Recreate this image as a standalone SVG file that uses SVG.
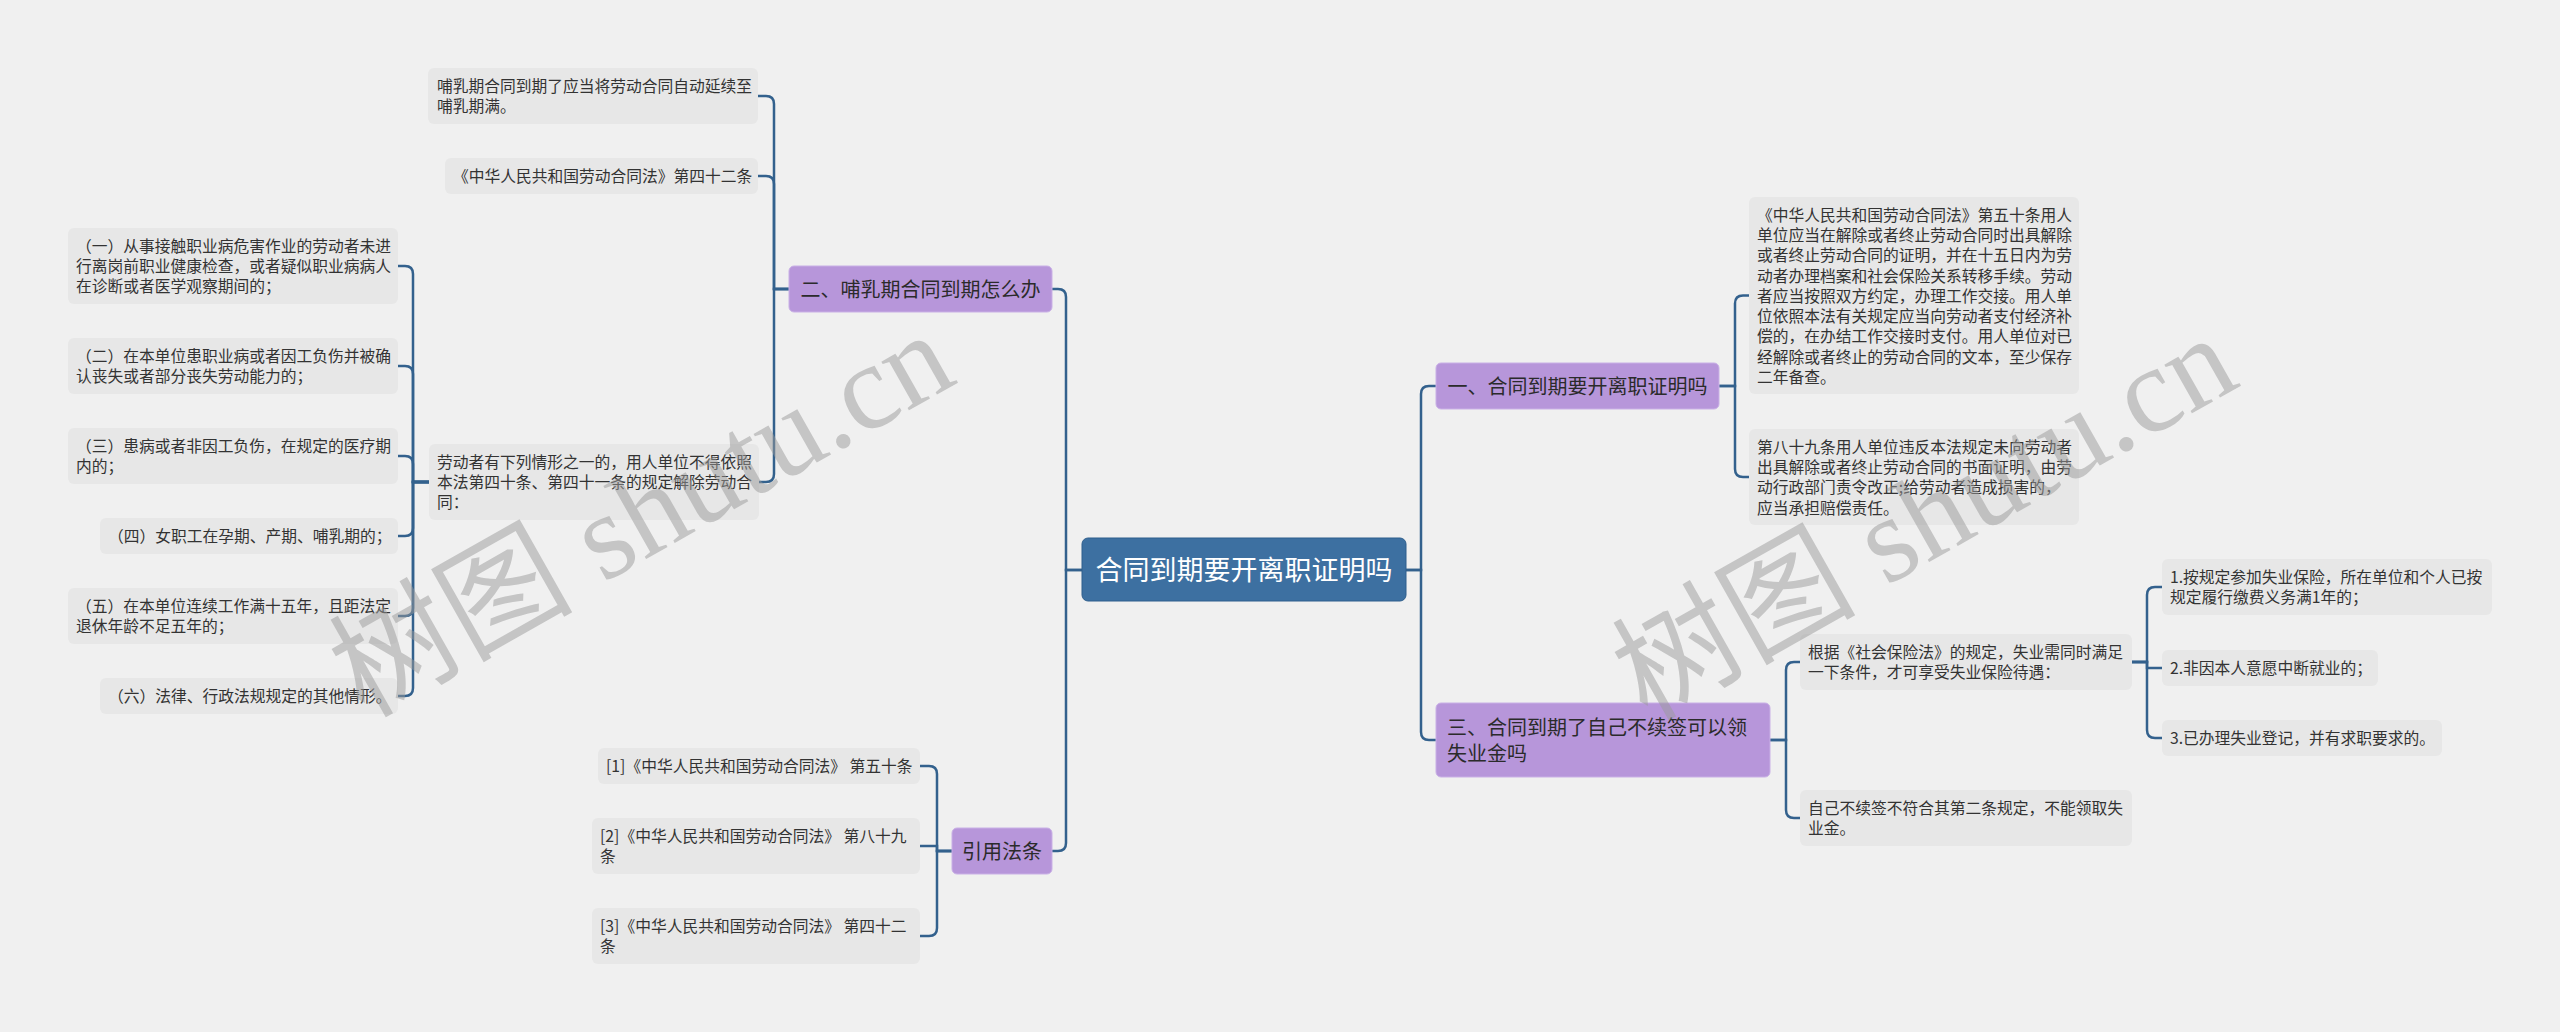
<svg xmlns="http://www.w3.org/2000/svg" width="2560" height="1032" viewBox="0 0 2560 1032">
<style>
.bg{fill:#f0f0f0}
.leaf rect{fill:#e7e7e7}
.leaf text{font-family:"Noto Sans CJK SC","Microsoft YaHei",sans-serif;font-size:15.75px;fill:#333}
.sub rect{fill:#b796da;stroke:#c9b0e6;stroke-width:1}
.sub text{font-family:"Noto Sans CJK SC","Microsoft YaHei",sans-serif;font-size:20px;fill:#2b2b2b}
.root rect{fill:#3d70a1;stroke:#2f5f8d;stroke-width:1}
.root text{font-family:"Noto Sans CJK SC","Microsoft YaHei",sans-serif;font-size:27px;fill:#fff}
#connectors path{fill:none;stroke:#33618d;stroke-width:2.5}
.wm{font-family:"Liberation Serif","Noto Sans CJK SC",serif;font-size:122px;fill:#999;fill-opacity:0.5}
</style>
<rect class="bg" x="0" y="0" width="2560" height="1032"/>

<g id="connectors">
<path d="M1082,570 H1066 V297 Q1066,289 1058,289 H1052"/>
<path d="M1082,570 H1066 V843 Q1066,851 1058,851 H1052"/>
<path d="M1406,570 H1421 V394 Q1421,386 1429,386 H1436"/>
<path d="M1406,570 H1421 V732 Q1421,740 1429,740 H1436"/>
<path d="M789,289 H774 V104 Q774,96 766,96 H758"/>
<path d="M789,289 H774 V184 Q774,176 766,176 H758"/>
<path d="M789,289 H774 V474 Q774,482 766,482 H759"/>
<path d="M429,482 H413 V274 Q413,266 405,266 H398"/>
<path d="M429,482 H413 V374 Q413,366 405,366 H398"/>
<path d="M429,482 H413 V464 Q413,456 405,456 H398"/>
<path d="M429,482 H413 V528 Q413,536 405,536 H398"/>
<path d="M429,482 H413 V608 Q413,616 405,616 H398"/>
<path d="M429,482 H413 V688 Q413,696 405,696 H398"/>
<path d="M952,851 H937 V774 Q937,766 929,766 H920"/>
<path d="M952,851 H937 V846 H920"/>
<path d="M952,851 H937 V928 Q937,936 929,936 H920"/>
<path d="M1719,386 H1735 V303.5 Q1735,295.5 1743,295.5 H1749"/>
<path d="M1719,386 H1735 V469 Q1735,477 1743,477 H1749"/>
<path d="M1770,740 H1786 V670 Q1786,662 1794,662 H1800"/>
<path d="M1770,740 H1786 V810 Q1786,818 1794,818 H1800"/>
<path d="M2132,662 H2147 V595 Q2147,587 2155,587 H2162"/>
<path d="M2132,662 H2147 V668 H2162"/>
<path d="M2132,662 H2147 V730 Q2147,738 2155,738 H2162"/>
</g>

<g id="root" class="root">
<rect x="1082" y="538" width="324" height="63" rx="6"/>
<text x="1244" y="580" text-anchor="middle">合同到期要开离职证明吗</text>
</g>

<g id="n2" class="sub">
<rect x="789" y="266" width="263" height="46" rx="5"/>
<text x="920.5" y="296.5" text-anchor="middle">二、哺乳期合同到期怎么办</text>
</g>
<g id="nref" class="sub">
<rect x="952" y="828" width="100" height="46" rx="5"/>
<text x="1002" y="858.5" text-anchor="middle">引用法条</text>
</g>
<g id="n1" class="sub">
<rect x="1436" y="363" width="283" height="46" rx="5"/>
<text x="1577.5" y="393.5" text-anchor="middle">一、合同到期要开离职证明吗</text>
</g>
<g id="n3" class="sub">
<rect x="1436" y="703" width="334" height="74" rx="5"/>
<text x="1447" y="734.5">三、合同到期了自己不续签可以领</text>
<text x="1447" y="761">失业金吗</text>
</g>

<g id="L1" class="leaf">
<rect x="428" y="68" width="330" height="56" rx="6"/>
<text x="437" y="91.6">哺乳期合同到期了应当将劳动合同自动延续至</text>
<text x="437" y="111.9">哺乳期满。</text>
</g>
<g id="L2" class="leaf">
<rect x="445" y="158" width="313" height="36" rx="6"/>
<text x="453" y="181.6">《中华人民共和国劳动合同法》第四十二条</text>
</g>
<g id="L3" class="leaf">
<rect x="429" y="444" width="330" height="76" rx="6"/>
<text x="437" y="467.6">劳动者有下列情形之一的，用人单位不得依照</text>
<text x="437" y="487.9">本法第四十条、第四十一条的规定解除劳动合</text>
<text x="437" y="508.2">同：</text>
</g>

<g id="Y1" class="leaf">
<rect x="68" y="228" width="330" height="76" rx="6"/>
<text x="76" y="251.6">（一）从事接触职业病危害作业的劳动者未进</text>
<text x="76" y="271.9">行离岗前职业健康检查，或者疑似职业病病人</text>
<text x="76" y="292.2">在诊断或者医学观察期间的；</text>
</g>
<g id="Y2" class="leaf">
<rect x="68" y="338" width="330" height="56" rx="6"/>
<text x="76" y="361.6">（二）在本单位患职业病或者因工负伤并被确</text>
<text x="76" y="381.9">认丧失或者部分丧失劳动能力的；</text>
</g>
<g id="Y3" class="leaf">
<rect x="68" y="428" width="330" height="56" rx="6"/>
<text x="76" y="451.6">（三）患病或者非因工负伤，在规定的医疗期</text>
<text x="76" y="471.9">内的；</text>
</g>
<g id="Y4" class="leaf">
<rect x="100" y="518" width="298" height="36" rx="6"/>
<text x="108" y="541.6">（四）女职工在孕期、产期、哺乳期的；</text>
</g>
<g id="Y5" class="leaf">
<rect x="68" y="588" width="330" height="56" rx="6"/>
<text x="76" y="611.6">（五）在本单位连续工作满十五年，且距法定</text>
<text x="76" y="631.9">退休年龄不足五年的；</text>
</g>
<g id="Y6" class="leaf">
<rect x="100" y="678" width="298" height="36" rx="6"/>
<text x="108" y="701.6">（六）法律、行政法规规定的其他情形。</text>
</g>

<g id="R1" class="leaf">
<rect x="598" y="748" width="322" height="36" rx="6"/>
<text x="606" y="771.6">[1]《中华人民共和国劳动合同法》 第五十条</text>
</g>
<g id="R2" class="leaf">
<rect x="592" y="818" width="328" height="56" rx="6"/>
<text x="600" y="841.6">[2]《中华人民共和国劳动合同法》 第八十九</text>
<text x="600" y="861.9">条</text>
</g>
<g id="R3" class="leaf">
<rect x="592" y="908" width="328" height="56" rx="6"/>
<text x="600" y="931.6">[3]《中华人民共和国劳动合同法》 第四十二</text>
<text x="600" y="951.9">条</text>
</g>

<g id="A" class="leaf">
<rect x="1749" y="197" width="330" height="197" rx="6"/>
<text x="1757" y="220.6">《中华人民共和国劳动合同法》第五十条用人</text>
<text x="1757" y="240.9">单位应当在解除或者终止劳动合同时出具解除</text>
<text x="1757" y="261.2">或者终止劳动合同的证明，并在十五日内为劳</text>
<text x="1757" y="281.5">动者办理档案和社会保险关系转移手续。劳动</text>
<text x="1757" y="301.8">者应当按照双方约定，办理工作交接。用人单</text>
<text x="1757" y="322.1">位依照本法有关规定应当向劳动者支付经济补</text>
<text x="1757" y="342.4">偿的，在办结工作交接时支付。用人单位对已</text>
<text x="1757" y="362.7">经解除或者终止的劳动合同的文本，至少保存</text>
<text x="1757" y="383">二年备查。</text>
</g>
<g id="B" class="leaf">
<rect x="1749" y="429" width="330" height="96" rx="6"/>
<text x="1757" y="452.6">第八十九条用人单位违反本法规定未向劳动者</text>
<text x="1757" y="472.9">出具解除或者终止劳动合同的书面证明，由劳</text>
<text x="1757" y="493.2">动行政部门责令改正;给劳动者造成损害的，</text>
<text x="1757" y="513.5">应当承担赔偿责任。</text>
</g>
<g id="C" class="leaf">
<rect x="1800" y="634" width="332" height="56" rx="6"/>
<text x="1808" y="657.6">根据《社会保险法》的规定，失业需同时满足</text>
<text x="1808" y="677.9">一下条件，才可享受失业保险待遇：</text>
</g>
<g id="D" class="leaf">
<rect x="1800" y="790" width="332" height="56" rx="6"/>
<text x="1808" y="813.6">自己不续签不符合其第二条规定，不能领取失</text>
<text x="1808" y="833.9">业金。</text>
</g>
<g id="E" class="leaf">
<rect x="2162" y="559" width="330" height="56" rx="6"/>
<text x="2170" y="582.6">1.按规定参加失业保险，所在单位和个人已按</text>
<text x="2170" y="602.9">规定履行缴费义务满1年的；</text>
</g>
<g id="F" class="leaf">
<rect x="2162" y="650" width="216" height="36" rx="6"/>
<text x="2170" y="673.6">2.非因本人意愿中断就业的；</text>
</g>
<g id="G" class="leaf">
<rect x="2162" y="720" width="280" height="36" rx="6"/>
<text x="2170" y="743.6">3.已办理失业登记，并有求职要求的。</text>
</g>

<g id="watermarks">
<text class="wm" transform="translate(655,508) rotate(-29.5)" x="-15" y="40" text-anchor="middle">树图 shutu.cn</text>
<text class="wm" transform="translate(1938,511) rotate(-29.5)" x="-15" y="40" text-anchor="middle">树图 shutu.cn</text>
</g>
</svg>
